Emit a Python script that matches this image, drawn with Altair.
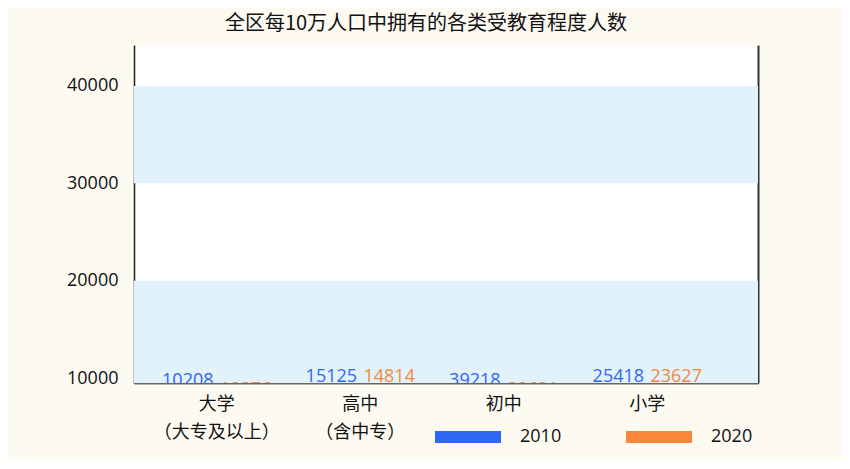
import altair as alt
import pandas as pd

# ---- data ----
categories = ["大学\n（大专及以上）", "高中\n（含中专）", "初中", "小学"]
years = ["2010", "2020"]
values_2010 = [10208, 15125, 39218, 25418]
values_2020 = [19376, 14814, 33621, 23627]   # 大学/初中 2020 labels are illegible (clipped) in the source
# how each label sits against the bottom edge in the source: cut off almost fully / slightly
hidden_labels = [("大学\n（大专及以上）", "2020"), ("初中", "2020")]
low_labels = [("大学\n（大专及以上）", "2010"), ("初中", "2010")]

y_ticks = [10000, 20000, 30000, 40000]
y_domain = [9500, 44200]
band_low = [9500, 30000]
band_high = [20000, 40000]

BLUE = "#2f66f5"
ORANGE = "#f7873a"

rows = []
for c, v1, v2 in zip(categories, values_2010, values_2020):
    for yr, v in (("2010", v1), ("2020", v2)):
        key = (c, yr)
        grp = "hidden" if key in hidden_labels else ("low" if key in low_labels else "full")
        rows.append({"category": c, "year": yr, "value": v, "grp": grp})
df = pd.DataFrame(rows)
bands = pd.DataFrame({"low": band_low, "high": band_high})

W, H = 624, 338
yscale = alt.Scale(domain=y_domain, nice=False, zero=False)

band_layer = alt.Chart(bands).mark_rect(color="#e2f2fa").encode(
    y=alt.Y("low:Q", scale=yscale,
            axis=alt.Axis(values=y_ticks, format="d", title=None, grid=False,
                          ticks=False, labelFontSize=18, labelFont="Open Sans",
                          labelColor="#111", labelPadding=16,
                          domainColor="#222", domainWidth=1.5)),
    y2="high:Q",
)

right_border = alt.Chart(bands).mark_rule(opacity=0).encode(
    y=alt.Y("low:Q", scale=yscale,
            axis=alt.Axis(orient="right", labels=False, ticks=False, grid=False,
                          title=None, domainColor="#333", domainWidth=2)),
)

xenc = alt.X("category:N", sort=categories,
             scale=alt.Scale(paddingInner=0, paddingOuter=0.174, align=0.22),
             axis=alt.Axis(title=None, labelAngle=0, ticks=False,
                           labelExpr="split(datum.label, '\\n')",
                           labelFont="Noto Sans CJK SC", labelFontSize=18,
                           labelColor="#111", labelLineHeight=28,
                           labelPadding=12, domainColor="#666", domainWidth=2))
xoff = alt.XOffset("year:N", sort=years, scale=alt.Scale(padding=0.74))
color = alt.Color("year:N", sort=years,
                  scale=alt.Scale(domain=years, range=[BLUE, ORANGE]),
                  legend=alt.Legend(orient="none", legendX=301, legendY=359,
                                    direction="horizontal", title=None,
                                    symbolType="M-1,-0.18H1V0.18H-1Z",
                                    symbolSize=4356, symbolStrokeWidth=0,
                                    symbolOpacity=1,
                                    labelFont="Open Sans", labelFontSize=18,
                                    labelColor="#111", labelOffset=19,
                                    columnPadding=64, padding=0))

text_base = alt.Chart(df).encode(
    x=xenc, xOffset=xoff,
    y=alt.YDatum(datum=y_domain[0], scale=yscale, axis=None),
    text="value:Q", color=color,
)
def label_layer(group, dy):
    return text_base.transform_filter(alt.datum.grp == group).mark_text(
        clip=True, baseline="alphabetic", fontSize=18, font="Open Sans", dy=dy)

inner = alt.layer(
    band_layer, right_border,
    label_layer("full", -1), label_layer("low", 3), label_layer("hidden", 12),
).resolve_axis(y="independent").properties(
    width=W, height=H,
    title=alt.TitleParams("全区每10万人口中拥有的各类受教育程度人数",
                          font="Noto Sans CJK SC", fontSize=20, fontWeight="normal",
                          color="#111", anchor="middle", dx=-20, offset=11),
)

chart = alt.vconcat(inner).properties(
    padding={"left": 58, "top": 6, "right": 84, "bottom": 14},
).configure(background="#fcfaf1").configure_view(fill="white", stroke=None)

chart.save("out.html", embed_options={"renderer": "svg", "actions": False})
